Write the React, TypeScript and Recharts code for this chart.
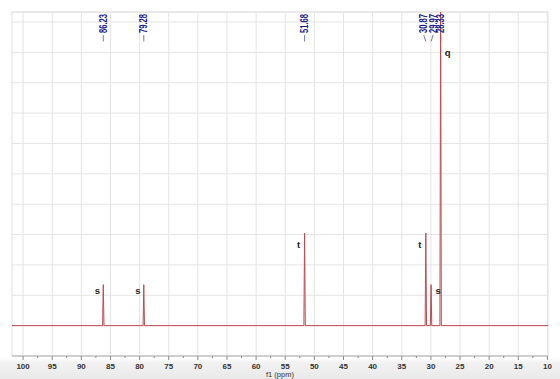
import { ComposedChart, Line, Scatter, XAxis, YAxis, CartesianGrid, ReferenceLine, ReferenceArea } from 'recharts';

// peak list (ppm)
const shifts = [86.23, 79.28, 51.68, 30.87, 29.97, 28.33];
const heights = [1.35, 1.35, 3.05, 3.05, 1.35, 11];
const multiplicities = ['s', 's', 't', 't', 's', 'q'];
const majorTicks = [100, 95, 90, 85, 80, 75, 70, 65, 60, 55, 50, 45, 40, 35, 30, 25, 20, 15, 10];
const gridRows = [-1, 0, 1, 2, 3, 4, 5, 6, 7, 8, 9, 10];

const X_MIN = 9.9;
const X_MAX = 101.9;
const Y_MIN = -1;
const Y_MAX = 10.33;
const HALF_WIDTH = 0.12;
const LABEL_GAP = 1.6;
const SPEC_COLOR = '#bd4a52';
const LABEL_COLOR = '#20208c';

const minorTicks = majorTicks.slice(1).map((t, i) => (t + majorTicks[i]) / 2);
const allTicks = [...majorTicks, ...minorTicks].sort((a, b) => a - b);

// spectrum trace: flat baseline with narrow spikes at each shift
const spectrum = [{ x: X_MIN, y: 0 }, { x: X_MAX, y: 0 }];
shifts.forEach((s, i) => {
  spectrum.push({ x: s + HALF_WIDTH, y: 0 }, { x: s, y: heights[i] }, { x: s - HALF_WIDTH, y: 0 });
});
spectrum.sort((a, b) => a.x - b.x);

// spread crowded peak labels apart, keeping each cluster centred
function spreadLabels(vals: number[]) {
  const out: number[] = [];
  let start = 0;
  for (let i = 0; i <= vals.length; i++) {
    if (i === vals.length || (i > 0 && vals[i - 1] - vals[i] >= LABEL_GAP)) {
      const cluster = vals.slice(start, i);
      const pos = [cluster[0]];
      for (let k = 1; k < cluster.length; k++) pos.push(Math.min(cluster[k], pos[k - 1] - LABEL_GAP));
      const shift = cluster.reduce((a, b) => a + b, 0) / cluster.length - pos.reduce((a, b) => a + b, 0) / pos.length;
      pos.forEach((p) => out.push(p + shift));
      start = i;
    }
  }
  return out;
}
const labelPos = spreadLabels(shifts);
const peakLabels = shifts.map((s, i) => ({ x: labelPos[i], y: Y_MAX, text: s.toFixed(2) }));
const multLabels = shifts.map((s, i) => {
  const crowded = shifts.some((o) => o > s && o - s < 2);
  return { x: s, y: Math.min(heights[i], Y_MAX), m: multiplicities[i], right: crowded, clipped: heights[i] > Y_MAX };
});

function AxisTick(props: any) {
  const { x, y, payload } = props;
  const major = payload.value % 5 === 0;
  return (
    <g>
      <line x1={x} x2={x} y1={y} y2={y + (major ? 4 : 2)} stroke="#8a8a8a" />
      {major && (
        <text x={x} y={y + 13} textAnchor="middle" fontSize={8} fontWeight="bold" fill="#333" fontFamily="Liberation Sans, Arial, sans-serif">
          {payload.value}
        </text>
      )}
    </g>
  );
}

function PeakLabel(props: any) {
  const { cx, cy, payload } = props;
  const bx = cx;
  const by = cy + 21;
  return (
    <text
      x={bx}
      y={by}
      transform={`rotate(-90 ${bx} ${by})`}
      dominantBaseline="central"
      fontSize={10}
      fontWeight="bold"
      fill={LABEL_COLOR}
      textLength={19}
      lengthAdjust="spacingAndGlyphs"
      fontFamily="Liberation Sans, Arial, sans-serif"
    >
      {payload.text}
    </text>
  );
}

function MultLabel(props: any) {
  const { cx, cy, payload } = props;
  const tx = payload.right ? cx + 7 : cx - 6;
  const ty = payload.clipped ? cy + 44 : cy + (payload.m === 't' ? 15 : 9);
  return (
    <text x={tx} y={ty} textAnchor="middle" fontSize={9.5} fontWeight="bold" fill="#222" fontFamily="Liberation Sans, Arial, sans-serif">
      {payload.m}
    </text>
  );
}

export default function App() {
  return (
    <div
      style={{
        position: 'absolute',
        left: 0,
        top: 0,
        width: 560,
        height: 379,
        background: 'linear-gradient(to bottom, #fff 0px, #fff 358px, #f1f1f1 363px, #e9e9e9 379px)',
      }}
    >
      <ComposedChart width={560} height={379} margin={{ top: 12, right: 12, left: 12, bottom: 0 }}>
        <CartesianGrid vertical={false} stroke="#e4e4e4" />
        {majorTicks.map((t) => (
          <ReferenceLine key={t} x={t} stroke="#e4e4e4" />
        ))}
        <ReferenceArea x1={X_MAX} x2={X_MIN} y1={Y_MIN} y2={Y_MAX} fill="none" stroke="#e0e0e0" />
        <XAxis
          type="number"
          dataKey="x"
          domain={[X_MIN, X_MAX]}
          reversed
          ticks={allTicks}
          interval={0}
          tickLine={false}
          tickSize={0}
          tickMargin={0}
          tick={<AxisTick />}
          height={23}
          stroke="#b5b5b5"
          allowDataOverflow
          label={{ value: 'f1 (ppm)', position: 'insideBottom', offset: 2, fontSize: 7.5, fill: '#333', fontFamily: 'Liberation Sans, Arial, sans-serif' }}
        />
        <YAxis type="number" hide domain={[Y_MIN, Y_MAX]} ticks={gridRows} allowDataOverflow />
        {shifts.map((s, i) => (
          <ReferenceLine
            key={'c' + s}
            segment={[
              { x: labelPos[i], y: 9.57 },
              { x: s, y: 9.36 },
            ]}
            stroke="#7a7ab0"
          />
        ))}
        <Line data={spectrum} dataKey="y" type="linear" stroke={SPEC_COLOR} strokeWidth={1} dot={false} isAnimationActive={false} />
        <Scatter data={peakLabels} dataKey="y" shape={<PeakLabel />} isAnimationActive={false} />
        <Scatter data={multLabels} dataKey="y" shape={<MultLabel />} isAnimationActive={false} />
      </ComposedChart>
    </div>
  );
}
